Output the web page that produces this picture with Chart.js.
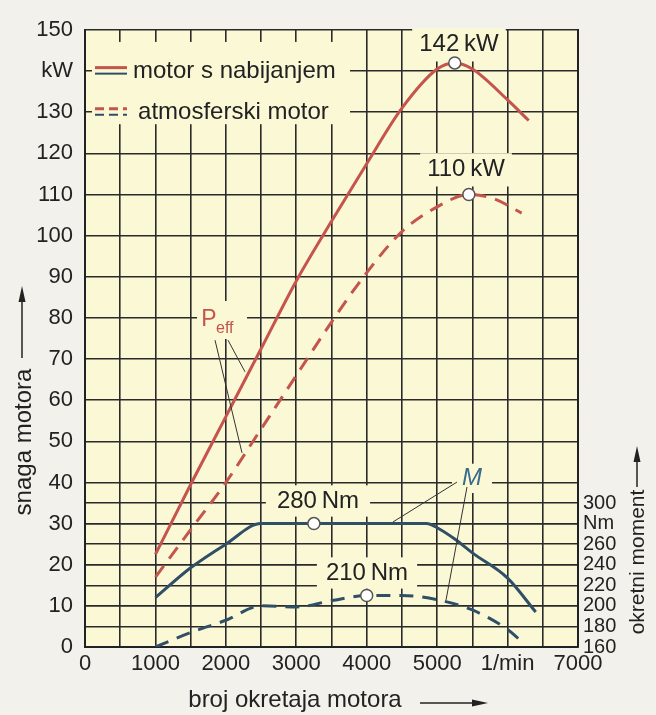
<!DOCTYPE html>
<html>
<head>
<meta charset="utf-8">
<script src="https://cdn.jsdelivr.net/npm/chart.js@4.4.1/dist/chart.umd.min.js"></script>
<style>
  html, body { margin: 0; padding: 0; background: #f2f1ec; }
  #wrap { width: 656px; height: 715px; }
</style>
</head>
<body>
<div id="wrap"><canvas id="motorChart" width="656" height="715"></canvas></div>
<script>
// power curves, kW over engine speed (1/min)
const rpmTurbo = [1000, 1500, 2000, 2500, 3000, 3500, 4000, 4500, 5000, 5250, 5500, 6000, 6300];
const kwTurbo = [22.5, 39.5, 56, 72.5, 89, 103.5, 117.5, 131, 140.5, 142, 140.5, 133, 128];
const rpmAtmo = [1000, 1500, 2000, 2500, 3000, 3500, 4000, 4500, 5000, 5450, 5800, 6200];
const kwAtmo = [17, 28.5, 40, 53, 66, 79, 91, 101, 107, 110, 109, 105.5];

// torque curves, Nm
const rpmTorqueTurbo = [1000, 1500, 2000, 2500, 3000, 3500, 4000, 4500, 4850, 5000, 5250, 5500, 6000, 6400];
const nmTorqueTurbo = [208, 237, 260, 280, 280, 280, 280, 280, 280, 276, 265, 251.5, 227, 194];
const rpmTorqueAtmo = [1000, 1500, 2000, 2500, 3000, 3500, 4000, 4500, 5000, 5500, 6000, 6220];
const nmTorqueAtmo = [160, 174, 186, 200, 199, 205, 210, 210, 206, 196, 177, 164];

// marked maxima
const peakRpmKw = [5250, 5450];
const peakKw = [142, 110];
const peakRpmNm = [3250, 4000];
const peakNm = [280, 210];

// tick labels
const rpmTickLabels = ['0', '1000', '2000', '3000', '4000', '5000', '1/min', '7000'];
const kwTickLabels = ['0', '10', '20', '30', '40', '50', '60', '70', '80', '90', '100', '110', '120', '130', 'kW', '150'];
const nmTickLabels = ['160', '180', '200', '220', '240', '260', 'Nm', '300'];

const FONT = '"Liberation Sans", Arial, sans-serif';
const RED = '#c4544c';
const BLUE = '#2f4f66';
const GRID = '#2a2a2a';
const PLOT_BG = '#fbf8d6';
const PAGE_BG = '#f2f1ec';

const pts = (xs, ys) => xs.map((x, i) => ({ x: x, y: ys[i] }));

// text notes inside the plot (rpm, kW); a plot-coloured box hides the grid under them
const notes = [
  { text: '142\u2009kW', x: 5310, y: 146.4, size: 24, color: '#222', padX: 7, padY: 8 },
  { text: '110\u2009kW', x: 5410, y: 116, size: 24, color: '#222', padX: 7, padY: 8 },
  { text: '280\u2009Nm', x: 3308, y: 35.5, size: 24, color: '#222', padX: 11, padY: 7 },
  { text: '210\u2009Nm', x: 4004, y: 18, size: 24, color: '#222', padX: 9, padY: 7 },
  { text: 'M', x: 5495, y: 41, size: 24, color: '#3a6a8c', italic: true, padX: 10, padY: 6 }
];
const pointers = [
  [1846, 74.6, 2229, 47.2], [2030, 74.6, 2272, 66.9],
  [5282, 40.1, 4373, 30.4], [5424, 38.9, 5126, 11.4]
];

const decor = {
  id: 'decor',
  beforeDraw(chart) {
    const { ctx, chartArea: a } = chart;
    ctx.save();
    ctx.fillStyle = PAGE_BG;
    ctx.fillRect(0, 0, chart.width, chart.height);
    ctx.fillStyle = PLOT_BG;
    ctx.fillRect(a.left, a.top, a.right - a.left, a.bottom - a.top);
    ctx.restore();
  },
  beforeDatasetsDraw(chart) {
    const { ctx, scales: { x, y } } = chart;
    ctx.save();
    ctx.fillStyle = PLOT_BG;
    notes.forEach(n => {
      ctx.font = (n.italic ? 'italic ' : '') + n.size + 'px ' + FONT;
      const w = ctx.measureText(n.text).width;
      const cx = x.getPixelForValue(n.x), cy = y.getPixelForValue(n.y);
      ctx.fillRect(cx - w / 2 - n.padX, cy - n.size * 0.36 - n.padY, w + 2 * n.padX, n.size * 0.72 + 2 * n.padY);
    });
    // P_eff box
    const px = x.getPixelForValue(1761), py = y.getPixelForValue(79.5);
    ctx.fillRect(px - 12, py - 19, 50, 38);
    // legend box
    const l = x.getPixelForValue(99), r = x.getPixelForValue(3763);
    const t = y.getPixelForValue(147.1), b = y.getPixelForValue(127.1);
    ctx.fillRect(l, t, r - l, b - t);
    ctx.restore();
  },
  afterDatasetsDraw(chart) {
    const { ctx, scales: { x, y } } = chart;
    ctx.save();
    ctx.textAlign = 'center';
    ctx.textBaseline = 'middle';
    notes.forEach(n => {
      ctx.font = (n.italic ? 'italic ' : '') + n.size + 'px ' + FONT;
      ctx.fillStyle = n.color;
      ctx.fillText(n.text, x.getPixelForValue(n.x), y.getPixelForValue(n.y));
    });
    // P_eff
    const px = x.getPixelForValue(1761), py = y.getPixelForValue(79.5);
    ctx.fillStyle = RED;
    ctx.font = '23px ' + FONT;
    ctx.fillText('P', px, py);
    ctx.font = '16px ' + FONT;
    ctx.textAlign = 'left';
    ctx.fillText('eff', px + 7, py + 9);

    // thin pointer lines
    ctx.strokeStyle = '#333';
    ctx.lineWidth = 1;
    pointers.forEach(p => {
      ctx.beginPath();
      ctx.moveTo(x.getPixelForValue(p[0]), y.getPixelForValue(p[1]));
      ctx.lineTo(x.getPixelForValue(p[2]), y.getPixelForValue(p[3]));
      ctx.stroke();
    });

    // legend
    const rows = [
      { text: 'motor s nabijanjem', kw: 140, tx: 681, dash: [] },
      { text: 'atmosferski motor', kw: 130, tx: 753, dash: [9, 5] }
    ];
    const m0 = x.getPixelForValue(142), m1 = x.getPixelForValue(596);
    rows.forEach(row => {
      const ry = y.getPixelForValue(row.kw);
      ctx.setLineDash(row.dash);
      ctx.lineWidth = 3;
      ctx.strokeStyle = RED;
      ctx.beginPath(); ctx.moveTo(m0, ry - 3.5); ctx.lineTo(m1, ry - 3.5); ctx.stroke();
      ctx.lineWidth = 2;
      ctx.strokeStyle = BLUE;
      ctx.beginPath(); ctx.moveTo(m0, ry + 2.5); ctx.lineTo(m1, ry + 2.5); ctx.stroke();
      ctx.setLineDash([]);
      ctx.fillStyle = '#222';
      ctx.font = '24px ' + FONT;
      ctx.textAlign = 'left';
      ctx.fillText(row.text, x.getPixelForValue(row.tx), ry);
    });
    ctx.restore();
  },
  afterDraw(chart) {
    const { ctx } = chart;
    ctx.save();
    ctx.fillStyle = '#222';
    ctx.strokeStyle = '#222';
    ctx.lineWidth = 1.5;
    ctx.textBaseline = 'middle';
    ctx.textAlign = 'center';

    ctx.font = '24px ' + FONT;
    ctx.fillText('broj okretaja motora', 295, 700);
    arrow(ctx, 420, 703, 488, 703);

    ctx.save();
    ctx.translate(24, 442);
    ctx.rotate(-Math.PI / 2);
    ctx.fillText('snaga motora', 0, 0);
    ctx.restore();
    arrow(ctx, 22, 358, 22, 286);

    ctx.save();
    ctx.font = '21px ' + FONT;
    ctx.translate(638, 562);
    ctx.rotate(-Math.PI / 2);
    ctx.fillText('okretni moment', 0, 0);
    ctx.restore();
    arrow(ctx, 637, 487, 637, 446);
    ctx.restore();
  }
};

function arrow(ctx, x1, y1, x2, y2) {
  const a = Math.atan2(y2 - y1, x2 - x1);
  const head = 16, half = 3.5;
  const c = Math.cos(a), s = Math.sin(a);
  ctx.beginPath();
  ctx.moveTo(x1, y1);
  ctx.lineTo(x2 - head * c * 0.5, y2 - head * s * 0.5);
  ctx.stroke();
  ctx.beginPath();
  ctx.moveTo(x2, y2);
  ctx.lineTo(x2 - head * c + half * s, y2 - head * s - half * c);
  ctx.lineTo(x2 - head * c - half * s, y2 - head * s + half * c);
  ctx.closePath();
  ctx.fill();
}

const tickFont = { family: FONT, size: 22 };
const gridOpts = { color: GRID, lineWidth: 1.6, drawTicks: false };

new Chart(document.getElementById('motorChart'), {
  type: 'line',
  data: {
    datasets: [
      {
        label: 'max P', data: pts(peakRpmKw, peakKw), yAxisID: 'y', showLine: false,
        pointRadius: 6, pointBackgroundColor: '#fff', pointBorderColor: '#555', pointBorderWidth: 1.5
      },
      {
        label: 'max M', data: pts(peakRpmNm, peakNm), yAxisID: 'y2', showLine: false,
        pointRadius: 6, pointBackgroundColor: '#fff', pointBorderColor: '#555', pointBorderWidth: 1.5
      },
      {
        label: 'P motor s nabijanjem', data: pts(rpmTurbo, kwTurbo), yAxisID: 'y',
        borderColor: RED, borderWidth: 3, pointRadius: 0, cubicInterpolationMode: 'monotone'
      },
      {
        label: 'P atmosferski motor', data: pts(rpmAtmo, kwAtmo), yAxisID: 'y',
        borderColor: RED, borderWidth: 3, borderDash: [14, 9], pointRadius: 0, cubicInterpolationMode: 'monotone'
      },
      {
        label: 'M motor s nabijanjem', data: pts(rpmTorqueTurbo, nmTorqueTurbo), yAxisID: 'y2',
        borderColor: BLUE, borderWidth: 3, pointRadius: 0, cubicInterpolationMode: 'monotone'
      },
      {
        label: 'M atmosferski motor', data: pts(rpmTorqueAtmo, nmTorqueAtmo), yAxisID: 'y2',
        borderColor: BLUE, borderWidth: 3, borderDash: [14, 9], pointRadius: 0, cubicInterpolationMode: 'monotone'
      }
    ]
  },
  options: {
    responsive: false,
    animation: false,
    layout: { padding: { top: 30, left: 0, right: 0, bottom: 0 } },
    plugins: {
      legend: { display: false },
      tooltip: { enabled: false }
    },
    scales: {
      x: {
        type: 'linear', min: 0, max: 7000,
        ticks: {
          stepSize: 500, autoSkip: false, maxRotation: 0, padding: 4, color: '#222', font: tickFont,
          callback: v => (v % 1000 === 0 ? rpmTickLabels[v / 1000] : '')
        },
        grid: gridOpts,
        border: { color: '#222', width: 2 },
        afterFit: s => { s.height = 68; }
      },
      y: {
        position: 'left', min: 0, max: 150,
        ticks: {
          stepSize: 10, autoSkip: false, padding: 12, color: '#222', font: tickFont,
          callback: v => kwTickLabels[v / 10]
        },
        grid: gridOpts,
        border: { color: '#222', width: 2 },
        afterFit: s => { s.width = 85; }
      },
      y2: {
        position: 'right', min: 160, max: 760,
        ticks: {
          stepSize: 20, autoSkip: false, padding: 5, color: '#222', font: { family: FONT, size: 20 },
          callback: v => (v <= 300 ? nmTickLabels[(v - 160) / 20] : '')
        },
        grid: {
          drawTicks: false, lineWidth: 1.6,
          color: c => (c.tick && c.tick.value <= 300 ? GRID : 'rgba(0,0,0,0)')
        },
        border: { color: '#222', width: 2 },
        afterFit: s => { s.width = 78; }
      }
    }
  },
  plugins: [decor]
});
</script>
</body>
</html>
